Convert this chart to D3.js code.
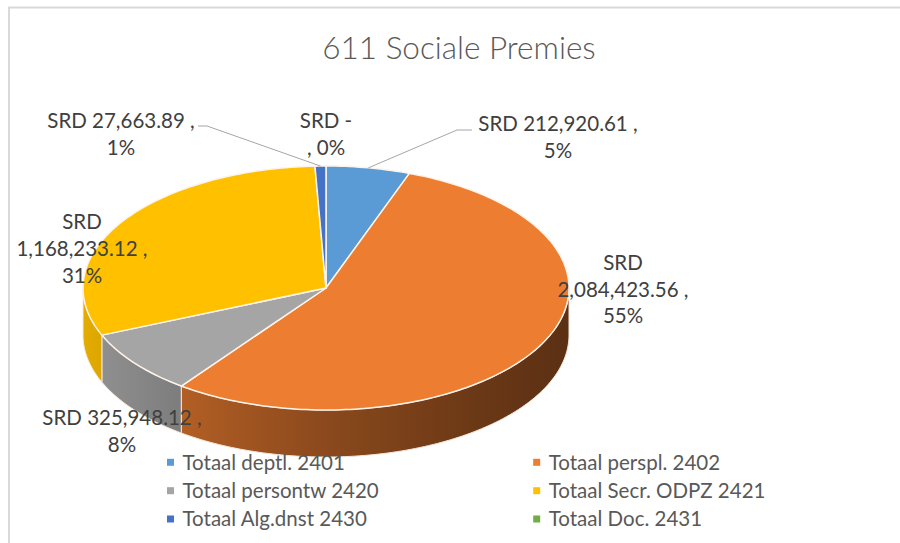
<!DOCTYPE html>
<html>
<head>
<meta charset="utf-8">
<script src="https://cdn.jsdelivr.net/npm/d3@7"></script>
<style>
  body { margin: 0; background: #fff; }
  text { font-family: Lato, "Open Sans", sans-serif; }
</style>
</head>
<body>
<script>
var categories = ["Totaal deptl. 2401", "Totaal perspl. 2402", "Totaal persontw 2420",
                  "Totaal Secr. ODPZ 2421", "Totaal Alg.dnst 2430", "Totaal Doc. 2431"];
var values = [212920.61, 2084423.56, 325948.12, 1168233.12, 27663.89, 0];
var percentLabels = ["5%", "55%", "8%", "31%", "1%", "0%"];
var colors = ["#5b9bd5", "#ed7d31", "#a5a5a5", "#ffc000", "#4472c4", "#70ad47"];

// where each data label sits (centre x, centre of first line), and whether "SRD" gets its own line
var labelLayout = [
    {x: 558, y: 123.5, split: false, elbow: [[457, 130], [472, 130]]},
    {x: 623, y: 262.5, split: true},
    {x: 122, y: 417.5, split: false},
    {x: 82,  y: 221.7, split: true},
    {x: 121, y: 120.7, split: false, elbow: [[207, 126], [198, 126]]},
    {x: 326, y: 120.7, split: false}
];

var width = 900, height = 543;
var cx = 326, cy = 288, rx = 243, ry = 122, depth = 47;
var lineH = 26.7, fs = 20.5;

var svg = d3.select("body").append("svg")
    .attr("width", width)
    .attr("height", height);

svg.append("rect")
    .attr("x", 9).attr("y", 7.5)
    .attr("width", 1000).attr("height", 1000)
    .attr("fill", "#fff")
    .attr("stroke", "#d9d9d9")
    .attr("stroke-width", 2);

svg.append("text")
    .attr("x", 459).attr("y", 59)
    .attr("text-anchor", "middle")
    .attr("font-size", 31.5)
    .attr("font-weight", 300)
    .attr("fill", "#595959")
    .text("611 Sociale Premies");

var arcs = d3.pie().sort(null).value(function(d) { return d; })(values);

function proj(a, h) {
    return [cx + rx * Math.sin(a), cy - ry * Math.cos(a) + (h || 0)];
}
function arcPts(a0, a1, h) {
    var n = Math.max(2, Math.ceil((a1 - a0) / 0.02));
    return d3.range(n + 1).map(function(i) { return proj(a0 + (a1 - a0) * i / n, h); });
}
var line = d3.line();

// side shading: lighter on the left, dark brown-ish on the right
var shade = d3.scaleLinear().domain([0, 1]).range([0.31, 2.67]);
var defs = svg.append("defs");
colors.forEach(function(c, i) {
    var g = defs.append("linearGradient")
        .attr("id", "wall" + i)
        .attr("gradientUnits", "userSpaceOnUse")
        .attr("x1", cx - rx).attr("x2", cx + rx)
        .attr("y1", 0).attr("y2", 0);
    d3.range(0, 1.01, 0.1).forEach(function(t) {
        g.append("stop")
            .attr("offset", t)
            .attr("stop-color", d3.color(c).darker(shade(t)).formatHex());
    });
});

// front walls (only the part between 90 and 270 degrees is visible)
arcs.forEach(function(d, i) {
    var a0 = Math.max(d.startAngle, Math.PI / 2);
    var a1 = Math.min(d.endAngle, Math.PI * 1.5);
    if (a1 <= a0) return;
    var pts = arcPts(a0, a1, 0).concat(arcPts(a0, a1, depth).reverse());
    svg.append("path")
        .attr("d", line(pts) + "Z")
        .attr("fill", "url(#wall" + i + ")")
        .attr("stroke", "#f6e6d8")
        .attr("stroke-width", 1);
});

// top faces
arcs.forEach(function(d, i) {
    if (d.endAngle <= d.startAngle) return;
    var pts = [[cx, cy]].concat(arcPts(d.startAngle, d.endAngle, 0));
    svg.append("path")
        .attr("d", line(pts) + "Z")
        .attr("fill", colors[i])
        .attr("stroke", "#fdf3ea")
        .attr("stroke-width", 1.5)
        .attr("stroke-linejoin", "round");
});

// leader lines
arcs.forEach(function(d, i) {
    var L = labelLayout[i];
    if (!L.elbow) return;
    var mid = (d.startAngle + d.endAngle) / 2;
    var pts = [proj(mid, 0)].concat(L.elbow);
    svg.append("path")
        .attr("d", line(pts))
        .attr("fill", "none")
        .attr("stroke", "#a6a6a6")
        .attr("stroke-width", 1);
});

// data labels
var money = d3.format(",.2f");
values.forEach(function(v, i) {
    var L = labelLayout[i];
    var amount = v === 0 ? "-" : money(v);
    var lines;
    if (L.split) lines = ["SRD", amount + " ,", percentLabels[i]];
    else if (v === 0) lines = ["SRD " + amount, ", " + percentLabels[i]];
    else lines = ["SRD " + amount + " ,", percentLabels[i]];
    var t = svg.append("text")
        .attr("text-anchor", "middle")
        .attr("font-size", fs)
        .attr("fill", "#404040");
    lines.forEach(function(s, j) {
        t.append("tspan")
            .attr("x", L.x)
            .attr("y", L.y + j * lineH + 7.4)
            .text(s);
    });
});

// legend
var legX = [170.5, 536.7], legY = [462.3, 490.7, 519];
var leg = svg.selectAll(".leg")
    .data(categories)
    .enter().append("g")
    .attr("class", "leg")
    .attr("transform", function(d, i) {
        return "translate(" + legX[i % 2] + "," + legY[Math.floor(i / 2)] + ")";
    });
leg.append("rect")
    .attr("x", -3.5).attr("y", -3.5)
    .attr("width", 7).attr("height", 7)
    .attr("fill", function(d, i) { return colors[i]; });
leg.append("text")
    .attr("x", 12)
    .attr("y", 7.4)
    .attr("font-size", fs)
    .attr("fill", "#595959")
    .text(function(d) { return d; });
</script>
</body>
</html>
